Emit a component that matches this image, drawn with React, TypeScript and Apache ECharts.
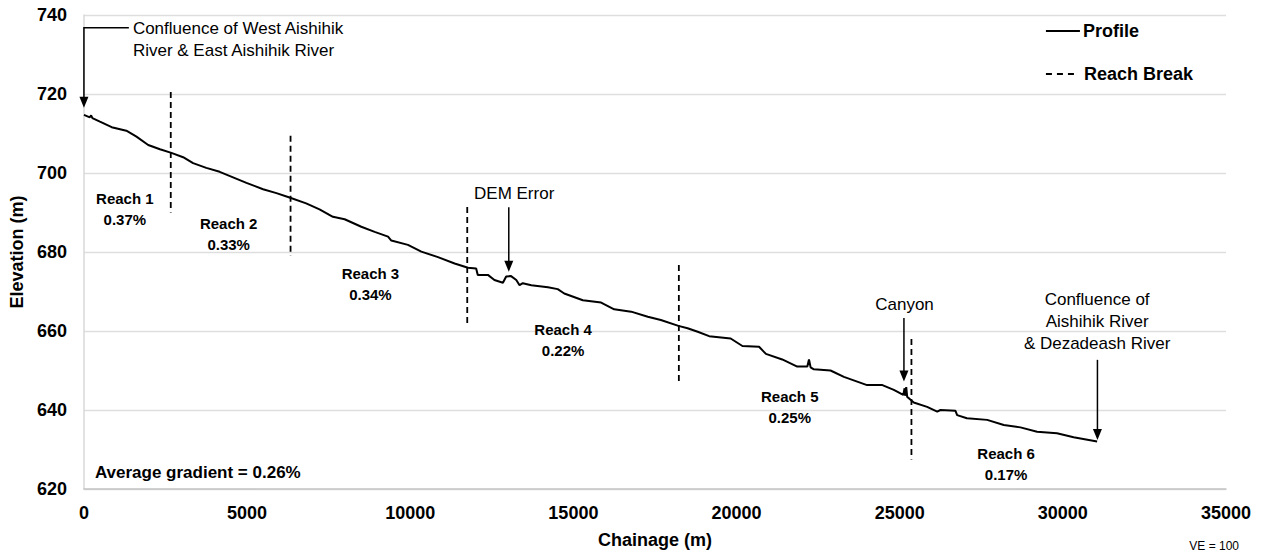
import React, { useEffect, useRef } from "react";
import * as echarts from "echarts";

const FONT = "'Liberation Sans', Arial, Helvetica, sans-serif";

// Profile (chainage m, elevation m)
const chainage = [
  0, 180, 220, 260, 490, 850, 1300, 1610, 1970, 2330, 2680, 3040, 3345, 3750, 4160, 4570, 4980, 5490, 5900, 6300,
  6810, 7220, 7630, 7990, 8500, 8910, 9320, 9420, 9930, 10340, 10850, 11360, 11770, 12020, 12070, 12380, 12580,
  12840, 12940, 13090, 13250, 13350, 13450, 13710, 14220, 14520, 14720, 15290, 15850, 16250, 16770, 17280, 17680,
  18220, 18500, 18810, 19160, 19820, 20180, 20690, 20900, 21400, 21860, 22170, 22220, 22270, 22370, 22880, 23290,
  24000, 24470, 24820, 25110, 25150, 25170, 25200, 25230, 25280, 25430, 25840, 26150, 26250, 26710, 26760, 27060,
  27680, 28190, 28700, 29210, 29820, 30330, 31050,
];
const elevation = [
  714.7, 714.1, 714.6, 713.9, 713.0, 711.6, 710.7, 709.2, 707.1, 706.0, 705.1, 704.0, 702.5, 701.3, 700.3, 698.9,
  697.5, 695.9, 694.9, 693.8, 692.3, 690.8, 688.9, 688.3, 686.4, 685.1, 683.9, 682.9, 681.8, 680.1, 678.7, 677.1,
  676.0, 675.8, 674.2, 674.2, 672.9, 672.2, 673.8, 673.9, 672.9, 671.6, 672.1, 671.6, 671.1, 670.6, 669.5, 667.8,
  667.2, 665.5, 664.9, 663.6, 662.8, 661.3, 660.7, 659.8, 658.7, 658.1, 656.2, 656.0, 654.2, 652.8, 651.0, 651.0,
  652.8, 650.8, 650.3, 650.0, 648.4, 646.3, 646.3, 645.1, 643.8, 645.5, 643.6, 645.8, 643.3, 643.0, 641.9, 640.8,
  639.6, 640.0, 639.8, 638.7, 637.9, 637.5, 636.2, 635.6, 634.5, 634.1, 633.1, 632.0,
];

// Reach breaks: chainage, dashed line top & bottom elevation
const breakChainage = [2661, 6332, 11747, 18232, 25360];
const breakTop = [720.5, 709.4, 691.4, 676.7, 658.0];
const breakBottom = [690.0, 679.0, 661.0, 646.3, 627.5];

// Reach labels
const reachNames = ["Reach 1", "Reach 2", "Reach 3", "Reach 4", "Reach 5", "Reach 6"];
const reachGradients = ["0.37%", "0.33%", "0.34%", "0.22%", "0.25%", "0.17%"];
const reachLabelX = [1254, 4436, 8780, 14685, 21630, 28260];
const reachLabelY = [690.8, 684.6, 672.0, 657.6, 640.8, 626.3];

const xTicks = { min: 0, max: 35000, interval: 5000 };
const yTicks = { min: 620, max: 740, interval: 20 };

const legendNames = ["Profile", "Reach Break"];

// Callouts: text, anchor (data coords), arrow shaft start / tip (data coords)
const callouts = [
  { text: "DEM Error", at: [13185, 694.9], from: [13020, 691.3], to: [13020, 675.0] },
  { text: "Canyon", at: [25147, 666.6], from: [25130, 663.3], to: [25130, 647.2] },
  {
    text: "Confluence of\nAishihik River\n& Dezadeash River",
    at: [31050, 662.3],
    from: [31060, 652.7],
    to: [31060, 632.4],
  },
];
const startCallout = {
  text: "Confluence of West Aishihik\nRiver & East Aishihik River",
  at: [1500, 733.7],
  elbow: [[1377, 736.8], [0, 736.8], [0, 716.5]],
};
const averageText = { text: "Average gradient = 0.26%", at: [336, 624.1] };

export default function App() {
  const ref = useRef<HTMLDivElement>(null);
  useEffect(() => {
    if (!ref.current) return;
    document.body.style.margin = "0";
    const chart = echarts.init(ref.current, undefined, { renderer: "svg" });
    const profile = chainage.map((c, i) => [c, elevation[i]]);
    const breakSeries = breakChainage.map((c, i) => ({
      name: "Reach Break",
      type: "line",
      symbol: "none",
      silent: true,
      data: [
        [c, breakTop[i]],
        [c, breakBottom[i]],
      ],
      lineStyle: { color: "#000", width: 1.8, type: [6, 4] },
      z: 3,
    }));
    chart.setOption({
      animation: false,
      textStyle: { fontFamily: FONT },
      grid: { left: 82, right: 35, top: 15, bottom: 67 },
      xAxis: {
        type: "value",
        min: xTicks.min,
        max: xTicks.max,
        interval: xTicks.interval,
        name: "Chainage (m)",
        nameLocation: "middle",
        nameGap: 42,
        nameTextStyle: { fontFamily: FONT, fontSize: 18, fontWeight: "bold", color: "#000" },
        axisLine: { show: true, lineStyle: { color: "#c4c4c4", width: 1.5 } },
        axisTick: { show: false },
        splitLine: { show: false },
        axisLabel: {
          fontFamily: FONT,
          fontSize: 18,
          fontWeight: "bold",
          color: "#000",
          margin: 15,
          formatter: (v: number) => String(v),
        },
      },
      yAxis: {
        type: "value",
        min: yTicks.min,
        max: yTicks.max,
        interval: yTicks.interval,
        name: "Elevation (m)",
        nameLocation: "middle",
        nameRotate: 90,
        nameGap: 54,
        nameTextStyle: { fontFamily: FONT, fontSize: 18, fontWeight: "bold", color: "#000" },
        axisLine: { show: true, lineStyle: { color: "#d9d9d9", width: 1.5 } },
        axisTick: { show: false },
        splitLine: { show: true, lineStyle: { color: "#dedede", width: 1.3 } },
        axisLabel: {
          fontFamily: FONT,
          fontSize: 18,
          fontWeight: "bold",
          color: "#000",
          margin: 17,
          formatter: (v: number) => String(v),
        },
      },
      series: [
        {
          name: "Profile",
          type: "line",
          symbol: "none",
          data: profile,
          lineStyle: { color: "#000", width: 2 },
          z: 4,
        },
        ...breakSeries,
      ],
    });

    const px = (p: number[]) => chart.convertToPixel({ gridIndex: 0 }, p) as number[];
    const g: any[] = [];
    const textEl = (text: string, p: number[], opts: any) => ({
      type: "text",
      x: p[0],
      y: p[1],
      silent: true,
      style: {
        text,
        fill: "#000",
        fontFamily: FONT,
        align: opts.align || "center",
        verticalAlign: "middle",
        textAlign: opts.align || "center",
        textVerticalAlign: "middle",
        fontSize: opts.size,
        fontWeight: opts.weight || "normal",
        lineHeight: opts.lineHeight || 22,
      },
      z: 10,
    });
    const arrowHead = (tip: number[]) => ({
      type: "polygon",
      silent: true,
      shape: { points: [[tip[0], tip[1]], [tip[0] - 4.5, tip[1] - 11], [tip[0] + 4.5, tip[1] - 11]] },
      style: { fill: "#000" },
      z: 10,
    });

    reachNames.forEach((n, i) => {
      g.push(
        textEl(n + "\n" + reachGradients[i], px([reachLabelX[i], reachLabelY[i]]), {
          size: 15,
          weight: "bold",
          lineHeight: 21,
        })
      );
    });
    g.push(textEl(averageText.text, px(averageText.at), { size: 17, weight: "bold", align: "left" }));

    callouts.forEach((c) => {
      g.push(textEl(c.text, px(c.at), { size: 17, lineHeight: 22 }));
      const a = px(c.from);
      const b = px(c.to);
      g.push({
        type: "line",
        silent: true,
        shape: { x1: a[0], y1: a[1], x2: b[0], y2: b[1] - 9 },
        style: { stroke: "#000", lineWidth: 1.5 },
        z: 10,
      });
      g.push(arrowHead(b));
    });

    g.push(textEl(startCallout.text, px(startCallout.at), { size: 17, lineHeight: 22, align: "left" }));
    const ep = startCallout.elbow.map(px);
    const tip = ep[2];
    g.push({
      type: "polyline",
      silent: true,
      shape: { points: [ep[0], ep[1], [tip[0], tip[1] - 9]] },
      style: { stroke: "#000", lineWidth: 1.5, fill: null },
      z: 10,
    });
    g.push(arrowHead(tip));

    // Legend (drawn as graphic)
    g.push({
      type: "group",
      right: 68,
      top: 22,
      silent: true,
      children: [
        { type: "line", shape: { x1: 0, y1: 9, x2: 34, y2: 9 }, style: { stroke: "#000", lineWidth: 2 } },
        {
          type: "text",
          x: 37,
          y: 9,
          style: {
            text: legendNames[0],
            fill: "#000",
            fontFamily: FONT,
            fontSize: 18,
            fontWeight: "bold",
            verticalAlign: "middle",
            textVerticalAlign: "middle",
          },
        },
        {
          type: "line",
          shape: { x1: 0, y1: 52, x2: 30, y2: 52 },
          style: { stroke: "#000", lineWidth: 1.8, lineDash: [6, 5] },
        },
        {
          type: "text",
          x: 38,
          y: 52,
          style: {
            text: legendNames[1],
            fill: "#000",
            fontFamily: FONT,
            fontSize: 18,
            fontWeight: "bold",
            verticalAlign: "middle",
            textVerticalAlign: "middle",
          },
        },
      ],
    });

    g.push({
      type: "text",
      right: 22,
      bottom: 4,
      silent: true,
      style: { text: "VE = 100", fill: "#000", fontFamily: FONT, fontSize: 12 },
    });

    chart.setOption({ graphic: g });
    return () => chart.dispose();
  }, []);
  return <div ref={ref} style={{ width: 1261, height: 556 }} />;
}
